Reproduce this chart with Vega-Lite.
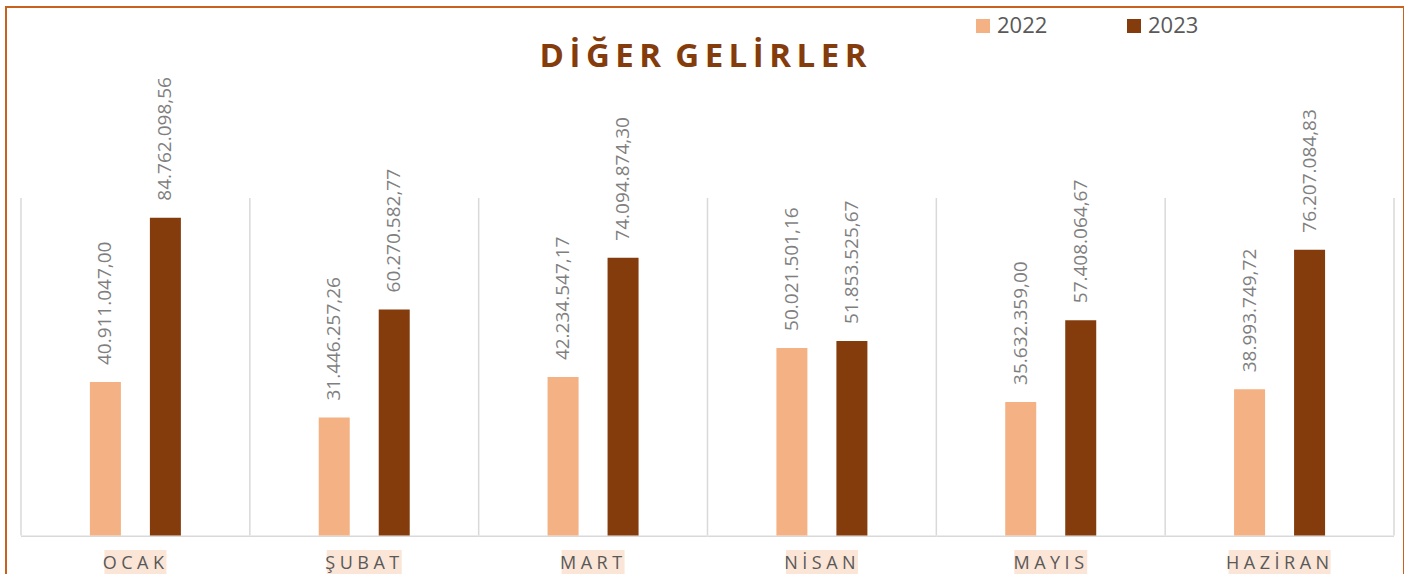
{
  "$schema": "https://vega.github.io/schema/vega-lite/v6.json",
  "width": 1398,
  "height": 569,
  "autosize": {"type": "none"},
  "padding": {"left": 6, "top": 7, "right": 0, "bottom": 0},
  "background": "#ffffff",
  "title": {
    "text": "D\u2006İ\u2006Ğ\u2006E\u2006R\u2006 G\u2006E\u2006L\u2006İ\u2006R\u2006L\u2006E\u2006R",
    "font": "Open Sans",
    "fontSize": 33,
    "fontWeight": "bold",
    "color": "#843C0C",
    "anchor": "middle",
    "frame": "group",
    "orient": "top",
    "offset": -93,
    "dx": -2,
    "baseline": "alphabetic"
  },
  "data": {
    "values": [
      {"month": "OCAK", "year": "2022", "value": 40911047.00},
      {"month": "OCAK", "year": "2023", "value": 84762098.56},
      {"month": "ŞUBAT", "year": "2022", "value": 31446257.26},
      {"month": "ŞUBAT", "year": "2023", "value": 60270582.77},
      {"month": "MART", "year": "2022", "value": 42234547.17},
      {"month": "MART", "year": "2023", "value": 74094874.30},
      {"month": "NİSAN", "year": "2022", "value": 50021501.16},
      {"month": "NİSAN", "year": "2023", "value": 51853525.67},
      {"month": "MAYIS", "year": "2022", "value": 35632359.00},
      {"month": "MAYIS", "year": "2023", "value": 57408064.67},
      {"month": "HAZİRAN", "year": "2022", "value": 38993749.72},
      {"month": "HAZİRAN", "year": "2023", "value": 76207084.83}
    ]
  },
  "layer": [
    {
      "transform": [{"filter": "datum.year == '2022'"}],
      "mark": {"type": "rule", "color": "#D9D9D9", "strokeWidth": 1.5},
      "encoding": {
        "x": {
          "field": "month", "type": "nominal", "sort": null, "bandPosition": 0,
          "scale": {"paddingInner": 0, "paddingOuter": 0.0546, "align": 0.6},
          "axis": null
        },
        "y": {"datum": 0, "type": "quantitative", "scale": {"domain": [-10800000, 140933333], "nice": false, "zero": false}, "axis": null},
        "y2": {"datum": 90000000}
      }
    },
    {
      "transform": [{"filter": "datum.year == '2022' && datum.month == 'HAZİRAN'"}],
      "mark": {"type": "rule", "color": "#D9D9D9", "strokeWidth": 1.5},
      "encoding": {
        "x": {"field": "month", "type": "nominal", "sort": null, "bandPosition": 1, "axis": null},
        "y": {"datum": 0, "type": "quantitative", "axis": null},
        "y2": {"datum": 90000000}
      }
    },
    {
      "transform": [{"filter": "datum.year == '2022'"}],
      "mark": {"type": "bar", "color": "#D9D9D9"},
      "encoding": {
        "x": {"field": "month", "type": "nominal", "sort": null, "axis": null},
        "y": {"datum": 0, "type": "quantitative", "axis": null},
        "y2": {"datum": -420000}
      }
    },
    {
      "transform": [{"filter": "datum.year == '2022'"}],
      "mark": {"type": "bar", "color": "#FBE5D6"},
      "encoding": {
        "x": {"field": "month", "type": "nominal", "sort": null, "axis": null},
        "y": {"datum": -3870000, "type": "quantitative", "axis": null},
        "y2": {"datum": -10800000},
        "size": {
          "field": "month", "type": "ordinal", "legend": null,
          "scale": {"type": "ordinal", "domain": ["OCAK", "ŞUBAT", "MART", "NİSAN", "MAYIS", "HAZİRAN"], "range": [62, 75, 63, 72, 73, 102]}
        }
      }
    },
    {
      "transform": [{"filter": "datum.year == '2022'"}],
      "mark": {
        "type": "text", "align": "center", "baseline": "alphabetic", "dx": -2,
        "font": "Open Sans", "fontSize": 18, "color": "#595959",
        "text": {"expr": "join(split(datum.month,''),'\u2005')"}
      },
      "encoding": {
        "x": {"field": "month", "type": "nominal", "sort": null, "axis": null},
        "y": {"datum": -9000000, "type": "quantitative", "axis": null}
      }
    },
    {
      "mark": {"type": "bar"},
      "encoding": {
        "x": {"field": "month", "type": "nominal", "sort": null, "axis": null},
        "xOffset": {"field": "year", "type": "nominal", "scale": {"paddingInner": 0.4833, "paddingOuter": 0, "range": [68.9, 159.9]}},
        "y": {"field": "value", "type": "quantitative", "axis": null},
        "color": {
          "field": "year", "type": "nominal",
          "scale": {"domain": ["2022", "2023"], "range": ["#F4B183", "#843C0C"]},
          "legend": {
            "orient": "none", "legendX": 966, "legendY": 8, "direction": "horizontal",
            "title": null, "symbolType": "square", "symbolSize": 196, "symbolStrokeWidth": 0,
            "labelFont": "Open Sans", "labelFontSize": 22, "labelColor": "#595959",
            "labelOffset": 3, "columnPadding": 75, "padding": 0
          }
        }
      }
    },
    {
      "mark": {"type": "text", "angle": 270, "align": "left", "baseline": "middle", "dx": 17, "font": "Open Sans", "fontSize": 19, "color": "#7F7F7F"},
      "encoding": {
        "x": {"field": "month", "type": "nominal", "sort": null, "axis": null},
        "xOffset": {"field": "year", "type": "nominal"},
        "y": {"field": "value", "type": "quantitative", "axis": null},
        "text": {"field": "value", "type": "quantitative", "format": ",.2f"}
      }
    }
  ],
  "config": {
    "view": {"stroke": "#C9611E", "strokeWidth": 2},
    "locale": {"number": {"decimal": ",", "thousands": ".", "grouping": [3], "currency": ["", ""]}}
  }
}
